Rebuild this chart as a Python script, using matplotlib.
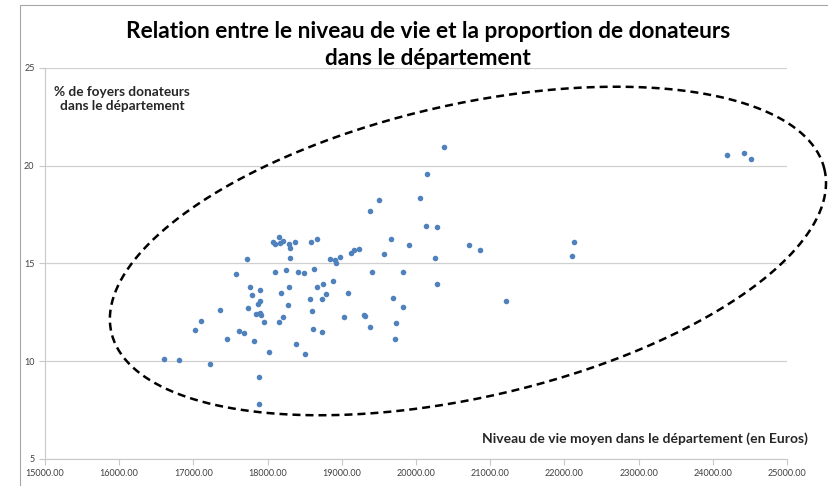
import numpy as np
import matplotlib
matplotlib.use("Agg")
import matplotlib.pyplot as plt
from matplotlib.patches import Rectangle

# niveau de vie moyen (euros) et % de foyers donateurs par departement
niveau_vie = [16608, 16810, 17018, 17106, 17224, 17354, 17449, 17578, 17615, 17686,
              17722, 17732, 17763, 17794, 17817, 17848, 17866, 17880, 17880, 17894,
              17894, 17902, 17915, 17952, 18019, 18077, 18104, 18154, 18167, 18212,
              18284, 18306, 18373, 18302, 18585, 18662, 18096, 18244, 18414, 18495,
              18621, 18177, 18288, 18271, 18154, 18212, 18379, 18504, 18571, 18602,
              18612, 18662, 18733, 18733, 18747, 18791, 18841, 18904, 18926, 18972,
              18881, 19030, 19084, 19128, 19160, 19232, 19299, 19313, 19380, 19380,
              19407, 19501, 19565, 19663, 19690, 19721, 19734, 19821, 19821, 19902,
              20058, 20131, 20144, 20256, 20279, 20279, 20373, 20710, 20858, 21209,
              22098, 22129, 24191, 24416, 24515]
pct_donateurs = [10.10, 10.08, 11.58, 12.07, 9.87, 12.62, 11.12, 14.45, 11.56, 11.46,
                 15.21, 12.72, 13.80, 13.39, 11.04, 12.40, 12.91, 9.18, 7.81, 13.66,
                 12.47, 13.07, 12.38, 12.02, 10.46, 16.08, 16.00, 16.37, 16.06, 16.14,
                 16.00, 15.79, 16.10, 15.28, 16.10, 16.25, 14.58, 14.67, 14.55, 14.51,
                 14.70, 13.49, 13.78, 12.86, 11.99, 12.26, 10.87, 10.37, 13.18, 12.57,
                 11.65, 13.81, 13.18, 11.48, 13.94, 13.46, 15.25, 15.18, 15.04, 15.32,
                 14.12, 12.28, 13.51, 15.52, 15.69, 15.76, 12.38, 12.30, 17.67, 11.74,
                 14.55, 18.23, 15.49, 16.27, 13.22, 11.14, 11.97, 14.57, 12.76, 15.93,
                 18.37, 16.93, 19.56, 15.27, 16.85, 13.94, 20.94, 15.93, 15.68, 13.07,
                 15.40, 16.12, 20.55, 20.64, 20.35]

# ellipse en pointilles (centre, demi-axes en donnees)
ell_centre = (20700, 15.64)
ell_axe_a = (4806, 4.16)
ell_axe_b = (-438, 7.30)

fig = plt.figure(figsize=(8.29, 4.86), dpi=100)
ax = fig.add_axes([45/829, 1-459/486, (787-45)/829, (459-68)/486])

ax.scatter(niveau_vie, pct_donateurs, s=16, color='#4F81BD', zorder=3, linewidths=0)

t = np.linspace(0, 2*np.pi, 400)
ex = ell_centre[0] + ell_axe_a[0]*np.cos(t) + ell_axe_b[0]*np.sin(t)
ey = ell_centre[1] + ell_axe_a[1]*np.cos(t) + ell_axe_b[1]*np.sin(t)
ax.plot(ex, ey, color='black', lw=1.8, dashes=[3.2, 2.0], clip_on=False, zorder=4)

ax.set_xlim(15000, 25000)
ax.set_ylim(5, 25)
ax.set_xticks(np.arange(15000, 25001, 1000))
ax.set_xticklabels(['%.2f' % v for v in np.arange(15000, 25001, 1000)])
ax.set_yticks([5, 10, 15, 20, 25])
ax.yaxis.grid(True, color='#d0d0d0', lw=0.9)
ax.set_axisbelow(True)
for s in ['top', 'right']:
    ax.spines[s].set_visible(False)
for s in ['left', 'bottom']:
    ax.spines[s].set_color('#c8c8c8')
ax.tick_params(colors='#c8c8c8', labelcolor='#404040', labelsize=6.5, length=4, width=0.8)
for lab in ax.get_xticklabels() + ax.get_yticklabels():
    lab.set_family('Lato')

fig.text(428/829, 1-45/486, 'Relation entre le niveau de vie et la proportion de donateurs\ndans le département',
         ha='center', va='center', fontsize=16.3, fontweight='bold', family='Lato',
         linespacing=1.3, color='black')
fig.text(122/829, 1-99/486, '% de foyers donateurs\ndans le département', ha='center', va='center',
         fontsize=9.8, fontweight='bold', family='Lato', color='#262626', linespacing=1.3)
fig.text(808/829, 1-439/486, 'Niveau de vie moyen dans le département (en Euros)', ha='right', va='center',
         fontsize=10, fontweight='bold', family='Lato', color='#262626')

# cadre du graphique
fig.patches.append(Rectangle((20/829, -0.01), 1.0, 1-5/486+0.01, transform=fig.transFigure,
                             fill=False, edgecolor='#a6a6a6', lw=0.8))

fig.savefig('out.png', dpi=100)
